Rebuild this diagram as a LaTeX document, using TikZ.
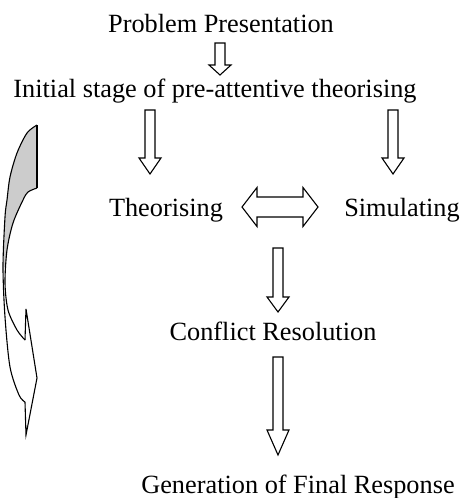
\documentclass[tikz,border=0pt]{standalone}
\usepackage{fontspec}
\setmainfont{Liberation Serif}
\usetikzlibrary{calc}

\tikzset{
  lbl/.style={font=\fontsize{26.3}{31}\selectfont, inner sep=0pt, anchor=base},
  blockline/.style={draw=black, line width=1.1pt, line join=miter, fill=white},
  bandline/.style={draw=black, line width=1.1pt},
}

% hollow block arrow pointing down: top point, tip point, head length
\newcommand{\downblock}[3]{%
  \draw[blockline] let \p1=(#1), \p2=(#2) in
    (\x1-5pt,\y1) -- (\x1+5pt,\y1) -- (\x1+5pt,\y2+#3) -- (\x1+11pt,\y2+#3)
    -- (\x1,\y2) -- (\x1-11pt,\y2+#3) -- (\x1-5pt,\y2+#3) -- cycle;}

\begin{document}
\begin{tikzpicture}[x=1pt,y=-1pt]
\useasboundingbox (0,0) rectangle (464,498);

% the stages
\node[lbl] (pp)   at (221,32)  {Problem Presentation};
\node[lbl] (init) at (215,97)  {Initial stage of pre-attentive theorising};
\node[lbl] (theo) at (166,216) {Theorising};
\node[lbl] (sim)  at (402,216) {Simulating};
\node[lbl] (conf) at (273,340) {Conflict Resolution};
\node[lbl] (gen)  at (298,493) {Generation of Final Response};

% arrow ends
\coordinate (pp-out)   at (220,43);
\coordinate (init-in)  at (220,75);
\coordinate (theo-top) at (150,110);
\coordinate (theo-in)  at (150,174);
\coordinate (sim-top)  at (393,110);
\coordinate (sim-in)   at (393,174);
\coordinate (link-l)   at (242,207);
\coordinate (link-r)   at (318,207);
\coordinate (conf-top) at (278,248);
\coordinate (conf-in)  at (278,312);
\coordinate (gen-top)  at (278,357);
\coordinate (gen-in)   at (278,455);

\downblock{pp-out}{init-in}{10pt}
\downblock{theo-top}{theo-in}{16pt}
\downblock{sim-top}{sim-in}{16pt}
\downblock{conf-top}{conf-in}{15pt}
\downblock{gen-top}{gen-in}{25pt}

% two way arrow between theorising and simulating
\draw[blockline] let \p1=(link-l), \p2=(link-r) in
  (\x1,\y1) -- (\x1+15pt,\y1+19.5pt) -- (\x1+15pt,\y1+10pt) -- (\x2-15pt,\y2+10pt)
  -- (\x2-15pt,\y2+19.5pt) -- (\x2,\y2) -- (\x2-15pt,\y2-19.5pt) -- (\x2-15pt,\y2-10pt)
  -- (\x1+15pt,\y1-10pt) -- (\x1+15pt,\y1-19.5pt) -- cycle;

% curved arrow on the left
\fill[gray!40] plot[smooth] coordinates {(37,125) (27,133) (17,153) (10,177) (7,200) (5,217) (4,240) (3.5,265)}
  -- plot[smooth] coordinates {(5.5,268) (7,250) (13,223) (23,200) (28,192) (37,188)} -- cycle;
\draw[bandline] plot[smooth] coordinates {(37,125) (27,133) (17,153) (10,177) (7,200) (5,217) (3,267) (5,317) (10,367) (19,395) (25,402)};
\draw[bandline] plot[smooth] coordinates {(37,188) (28,192) (23,200) (13,223) (7,250) (5,283) (8,310) (17,330) (25,340)};
\draw[bandline, line join=miter] (37,188) -- (37,125);
\draw[bandline, line join=miter] (25,340) -- (26,309) -- (37,378) -- (26,435) -- (25,402);
\end{tikzpicture}
\end{document}
